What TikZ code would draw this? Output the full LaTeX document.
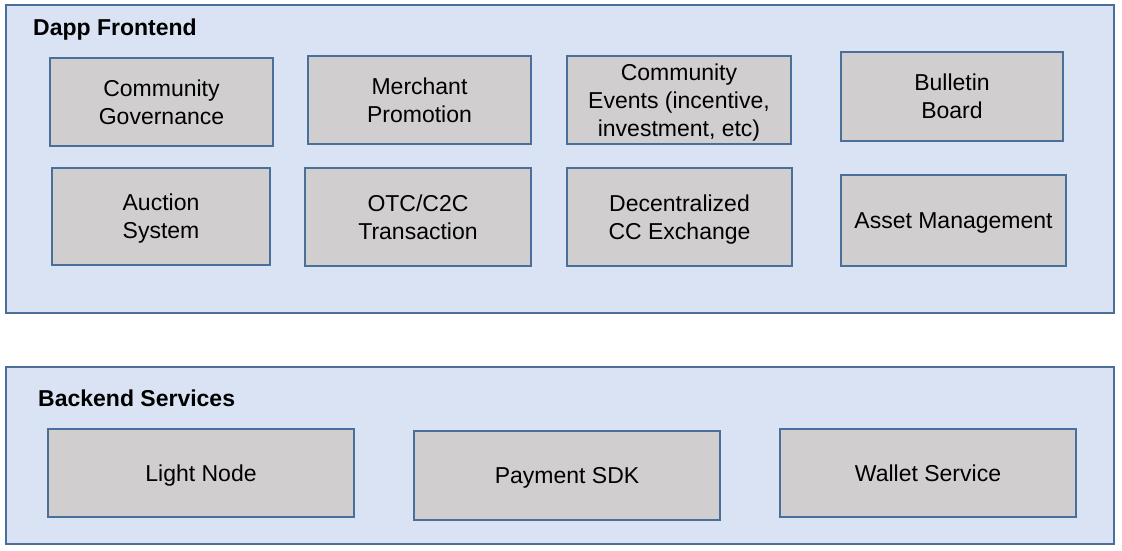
\documentclass[tikz,border=0pt]{standalone}
\usepackage{fontspec}
\setmainfont{Liberation Sans}
\usepackage{tikz}
\usetikzlibrary{positioning}
\definecolor{layerfill}{HTML}{DAE3F3}
\definecolor{layerline}{HTML}{4A6F98}
\definecolor{blockfill}{HTML}{D0CECE}
\tikzset{
  layer/.style={draw=layerline, fill=layerfill, line width=1.5pt, inner sep=0pt},
  block/.style={draw=layerline, fill=blockfill, line width=1.5pt, align=center,
    inner sep=0pt, text depth=0pt, font=\fontsize{23}{28}\selectfont},
  layertitle/.style={anchor=base west, inner sep=0pt, font=\fontsize{23}{28}\selectfont\bfseries}
}
\begin{document}
\begin{tikzpicture}[x=1pt,y=-1pt]
    \useasboundingbox (0,0) rectangle (1122,550);
    %layers
    \node[layer, minimum width=1108, minimum height=308] (front) at (560,159) {};
    \node[layer, minimum width=1108, minimum height=177] (back) at (560,455.5) {};
    \node[layertitle] (fronttitle) at (33,35) {Dapp Frontend};
    \node[layertitle] (backtitle) at (38,406) {Backend Services};
    % frontend, first row
    \node[block, minimum width=223, minimum height=88] (gov) at (161.5,102) {Community\\Governance};
    \node[block, minimum width=223, minimum height=88] (promo) at (419.5,100) {Merchant\\Promotion};
    \node[block, minimum width=224, minimum height=88] (events) at (679,100) {Community\\Events (incentive,\\investment, etc)};
    \node[block, minimum width=222, minimum height=89] (board) at (952,96.5) {Bulletin\\Board};
    % frontend, second row
    \node[block, minimum width=218, minimum height=97] (auction) at (161,216.5) {Auction\\System};
    \node[block, minimum width=226, minimum height=98] (otc) at (418,217) {OTC/C2C\\Transaction};
    \node[block, minimum width=225, minimum height=98] (dex) at (679.5,217) {Decentralized\\CC Exchange};
    \node[block, minimum width=225, minimum height=91] (asset) at (953.5,220.5) {Asset Management};
    % backend
    \node[block, minimum width=306, minimum height=88] (light) at (201,473) {Light Node};
    \node[block, minimum width=306, minimum height=89] (pay) at (567,475.5) {Payment SDK};
    \node[block, minimum width=296, minimum height=88] (wallet) at (928,473) {Wallet Service};
\end{tikzpicture}
\end{document}
